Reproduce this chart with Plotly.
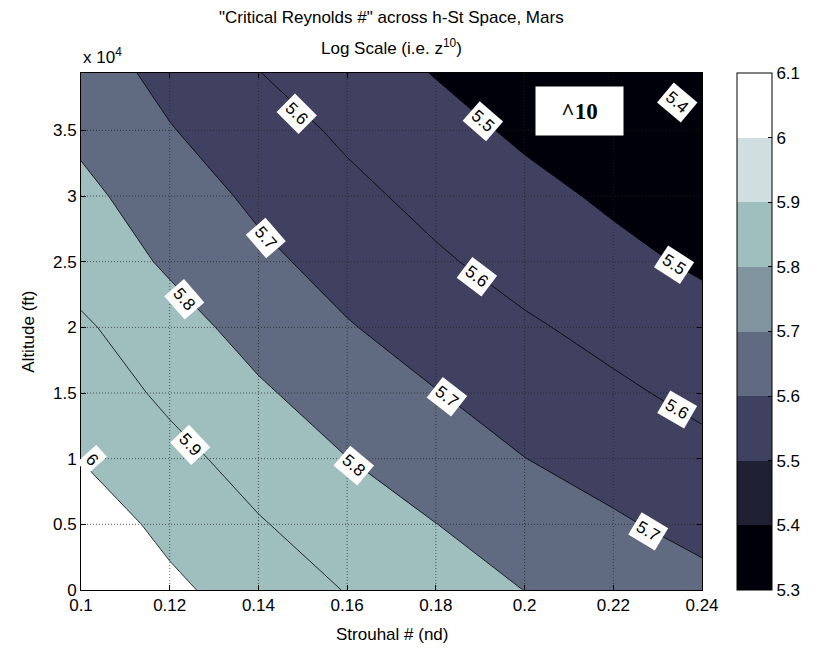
import plotly.graph_objects as go

# ---- data -------------------------------------------------------------
strouhal = [0.10, 0.12, 0.14, 0.16, 0.18, 0.20, 0.22, 0.24]
altitude_ft = [0, 5000, 10000, 15000, 20000, 25000, 30000, 35000, 39370]

# log10 of the critical Reynolds number, one row per altitude
log_re_crit = [
    [6.090, 6.019, 5.956, 5.896, 5.848, 5.799, 5.763, 5.727],
    [6.051, 5.976, 5.907, 5.853, 5.801, 5.756, 5.712, 5.672],
    [5.998, 5.928, 5.863, 5.801, 5.751, 5.701, 5.663, 5.624],
    [5.954, 5.881, 5.812, 5.756, 5.703, 5.660, 5.616, 5.578],
    [5.915, 5.835, 5.767, 5.706, 5.658, 5.612, 5.573, 5.536],
    [5.857, 5.787, 5.721, 5.665, 5.612, 5.567, 5.525, 5.486],
    [5.823, 5.749, 5.681, 5.623, 5.573, 5.527, 5.485, 5.447],
    [5.780, 5.705, 5.642, 5.584, 5.533, 5.484, 5.439, 5.396],
    [5.748, 5.672, 5.602, 5.548, 5.496, 5.453, 5.411, 5.373],
]

level_start, level_end, level_step = 5.4, 6.0, 0.1

# inline contour labels (clabel style)
label_level = ["5.6", "5.7", "5.8", "5.9", "6", "5.5", "5.4",
               "5.6", "5.5", "5.7", "5.6", "5.8", "5.7"]
label_x = [0.1486, 0.1418, 0.1233, 0.1245, 0.1024, 0.1907, 0.2344,
           0.1892, 0.2336, 0.1824, 0.2344, 0.1615, 0.2279]
label_y = [36300, 26800, 22100, 11050, 9900, 35700, 37100,
           23880, 24770, 14730, 13720, 9500, 4430]
label_angle = [45, 49, 49, 47, 48, 41, 40, 37, 33, 38, 30, 40, 31]

x_ticks = [0.10, 0.12, 0.14, 0.16, 0.18, 0.20, 0.22, 0.24]
x_tick_text = ["0.1", "0.12", "0.14", "0.16", "0.18", "0.2", "0.22", "0.24"]
y_ticks = [0, 5000, 10000, 15000, 20000, 25000, 30000, 35000]
y_tick_text = ["0", "0.5", "1", "1.5", "2", "2.5", "3", "3.5"]
cbar_ticks = [5.3, 5.4, 5.5, 5.6, 5.7, 5.8, 5.9, 6.0, 6.1]
cbar_text = ["5.3", "5.4", "5.5", "5.6", "5.7", "5.8", "5.9", "6", "6.1"]

# ---- styling ----------------------------------------------------------
bone8 = ["#00000b", "#202035", "#404060", "#606a80",
         "#80959f", "#9fbfbf", "#cfdfdf", "#ffffff"]
# colour used for each filled band: below 5.4, 5.4-5.5, ..., above 6.0
band_colors = [bone8[0], bone8[0], bone8[2], bone8[2],
               bone8[3], bone8[5], bone8[5], bone8[7]]

FONT = "Liberation Sans, Arial, Helvetica, sans-serif"
FS = 17


def centred_steps(colors):
    n = len(colors) - 1
    scale = []
    for k, c in enumerate(colors):
        lo = max(0.0, (k - 0.5) / n)
        hi = min(1.0, (k + 0.5) / n)
        scale += [[lo, c], [hi, c]]
    return scale


def even_steps(colors):
    n = len(colors)
    scale = []
    for k, c in enumerate(colors):
        scale += [[k / n, c], [(k + 1) / n, c]]
    return scale


fig = go.Figure()

fig.add_trace(go.Contour(
    x=strouhal, y=altitude_ft, z=log_re_crit,
    autocontour=False,
    contours=dict(start=level_start, end=level_end, size=level_step,
                  coloring="fill", showlabels=False),
    line=dict(color="black", width=0.8, smoothing=0),
    colorscale=centred_steps(band_colors),
    showscale=False, hoverinfo="skip",
))

# colour bar with the 8-step bone map
fig.add_trace(go.Scatter(
    x=[None], y=[None], mode="markers", showlegend=False, hoverinfo="skip",
    marker=dict(
        color=[cbar_ticks[0]], cmin=cbar_ticks[0], cmax=cbar_ticks[-1],
        colorscale=even_steps(bone8), showscale=True,
        colorbar=dict(
            x=1.0564, xanchor="left", xpad=0, ypad=0,
            y=0.5, yanchor="middle", len=1, lenmode="fraction",
            thickness=35, thicknessmode="pixels",
            outlinewidth=1, outlinecolor="black",
            ticks="inside", ticklen=4, tickcolor="black",
            tickvals=cbar_ticks, ticktext=cbar_text,
            tickfont=dict(family=FONT, size=FS, color="black"),
        ),
    ),
))

# dotted grid drawn over the filled contours
grid = dict(color="#222222", width=0.7, dash="1px,2px")
for xv in x_ticks[1:-1]:
    fig.add_shape(type="line", xref="x", yref="y", layer="above",
                  x0=xv, x1=xv, y0=altitude_ft[0], y1=altitude_ft[-1], line=grid)
for yv in y_ticks[1:]:
    fig.add_shape(type="line", xref="x", yref="y", layer="above",
                  x0=strouhal[0], x1=strouhal[-1], y0=yv, y1=yv, line=grid)

# contour labels in white boxes
for txt, lx, ly, ang in zip(label_level, label_x, label_y, label_angle):
    fig.add_annotation(x=lx, y=ly, xref="x", yref="y", text=txt,
                       showarrow=False, textangle=ang, bgcolor="white",
                       borderpad=3,
                       font=dict(family=FONT, size=FS, color="black"))

fig.add_annotation(x=0.2123, y=36500, xref="x", yref="y",
                   text="<b>^10</b>", showarrow=False, bgcolor="white",
                   width=85, height=46,
                   font=dict(family="Liberation Serif, Times New Roman, serif",
                             size=23, color="black"))

# titles
fig.add_annotation(x=0.5, y=1.1064, xref="paper", yref="paper",
                   xanchor="center", yanchor="middle", showarrow=False,
                   text='"Critical Reynolds #" across h-St Space, Mars',
                   font=dict(family=FONT, size=FS, color="black"))
fig.add_annotation(x=0.5, y=1.05, xref="paper", yref="paper",
                   xanchor="center", yanchor="middle", showarrow=False,
                   text="Log Scale (i.e. z<sup>10</sup>)",
                   font=dict(family=FONT, size=FS, color="black"))
fig.add_annotation(x=0.0, y=1.008, xref="paper", yref="paper",
                   xanchor="left", yanchor="bottom", showarrow=False,
                   text="x 10<sup>4</sup>",
                   font=dict(family=FONT, size=FS, color="black"))
fig.add_annotation(x=0.5, y=-0.087, xref="paper", yref="paper",
                   xanchor="center", yanchor="middle", showarrow=False,
                   text="Strouhal # (nd)",
                   font=dict(family=FONT, size=FS, color="black"))
fig.add_annotation(x=-0.085, y=0.5, xref="paper", yref="paper",
                   xanchor="center", yanchor="middle", showarrow=False,
                   text="Altitude (ft)", textangle=-90,
                   font=dict(family=FONT, size=FS, color="black"))

axis_common = dict(showline=True, linecolor="black", linewidth=1,
                   mirror="allticks", ticks="inside", ticklen=5,
                   tickcolor="black", showgrid=False, zeroline=False,
                   layer="above traces",
                   tickfont=dict(family=FONT, size=FS, color="black"))

fig.update_xaxes(range=[strouhal[0], strouhal[-1]], tickvals=x_ticks,
                 ticktext=x_tick_text, **axis_common)
fig.update_yaxes(range=[altitude_ft[0], altitude_ft[-1]], tickvals=y_ticks,
                 ticktext=y_tick_text, **axis_common)

fig.update_layout(
    width=817, height=649,
    margin=dict(l=81, r=115, t=73, b=59),
    paper_bgcolor="white", plot_bgcolor="white",
    font=dict(family=FONT, size=FS, color="black"),
    showlegend=False,
)

fig.write_html("out.html")
